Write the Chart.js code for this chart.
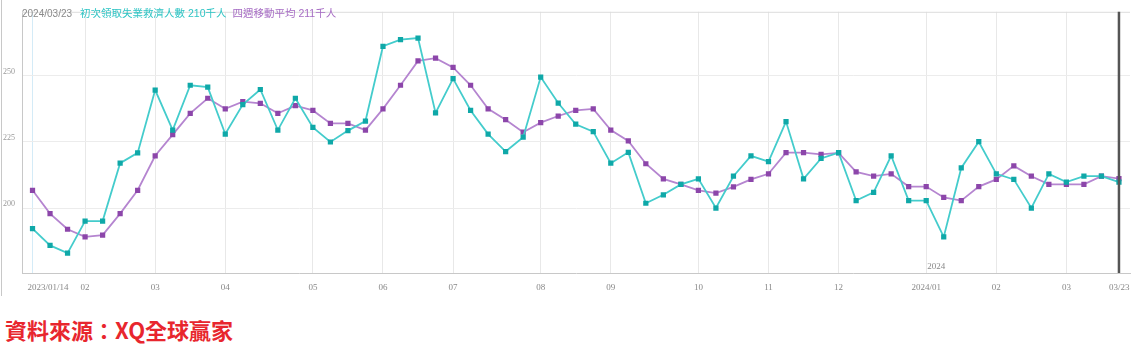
<!DOCTYPE html>
<html>
<head>
<meta charset="utf-8">
<script src="https://cdn.jsdelivr.net/npm/chart.js@4"></script>
<style>
  body { margin: 0; background: #fff; width: 1136px; height: 356px; overflow: hidden; position: relative; }
  #wrap { position: absolute; left: 0; top: 0; width: 1136px; height: 300px; }
  #head { position: absolute; left: 22px; top: 5px; font: 10.5px "Liberation Sans", "Noto Sans CJK TC", sans-serif; white-space: nowrap; }
  #head .date { font-size: 10px; margin-right: 8px; color: #8a8a8a; }
  #head .c1 { margin-right: 6px; color: #2ec4c4; }
  #head .c2 { color: #a66cc4; }
  #src { position: absolute; left: 5px; top: 313px; font: bold 22px "Noto Sans CJK TC", sans-serif; color: #e8262e; white-space: nowrap; }
</style>
</head>
<body>
<div id="wrap"><canvas id="claimsChart"></canvas></div>
<div id="head"><span class="date">2024/03/23</span><span class="c1">初次領取失業救濟人數 210千人</span><span class="c2">四週移動平均 211千人</span></div>
<div id="src">資料來源：XQ全球贏家</div>
<script>
// weekly data 2023/01/14 - 2024/03/23 (千人)
const claims = [192.2, 185.9, 183.0, 195.1, 195.1, 216.9, 220.8, 244.5, 229.4, 246.3,
                245.6, 227.9, 239.0, 244.7, 229.4, 241.4, 230.4, 224.9, 229.2, 232.8,
                261.0, 263.5, 264.1, 235.9, 248.8, 236.8, 227.9, 221.3, 226.7, 249.4,
                239.6, 231.6, 228.8, 216.9, 221.0, 201.8, 205.0, 208.9, 211.0, 200.0,
                212.0, 219.7, 217.5, 232.6, 211.0, 218.7, 220.9, 202.8, 205.9, 219.7,
                202.8, 202.8, 189.1, 215.1, 225.0, 212.9, 210.8, 200.0, 212.9, 209.8,
                212.0, 212.0, 209.8];
const avg4w = [206.7, 197.9, 192.0, 189.1, 189.8, 197.9, 206.7, 219.7, 227.7, 235.7,
               241.4, 237.4, 240.1, 239.5, 235.7, 238.6, 236.8, 231.9, 231.9, 229.4,
               237.4, 246.3, 255.5, 256.5, 253.0, 246.3, 237.4, 233.3, 228.6, 232.2,
               234.7, 236.8, 237.4, 229.4, 225.3, 216.7, 211.0, 208.9, 206.7, 205.6,
               208.0, 210.8, 212.9, 220.9, 220.9, 220.2, 220.8, 213.6, 212.0, 212.9,
               208.1, 208.1, 204.0, 202.8, 208.1, 210.8, 215.9, 212.0, 208.9, 208.9,
               208.9, 212.0, 211.1];

// month ticks: week index -> label
const tickIndex = [0, 3, 7, 11, 16, 20, 24, 29, 33, 38, 42, 46, 51, 55, 59, 62];
const tickText = ['2023/01/14', '02', '03', '04', '05', '06', '07', '08', '09', '10', '11', '12', '2024/01', '02', '03', '03/23'];
const yTicks = [200, 225, 250];
const yearMark = { index: 51, text: '2024' };
const cursorIndex = 62;

const toPoints = arr => arr.map((v, i) => ({ x: i, y: v }));

// x labels, year mark, top frame and cursor line
const decorations = {
    id: 'decorations',
    afterDraw(chart) {
        const ctx = chart.ctx;
        const area = chart.chartArea;
        const xs = chart.scales.x;
        ctx.save();

        ctx.strokeStyle = '#dcdcdc';
        ctx.lineWidth = 1;
        ctx.beginPath();
        ctx.moveTo(area.left, area.top + 0.5);
        ctx.lineTo(area.right, area.top + 0.5);
        ctx.stroke();

        ctx.strokeStyle = '#c8c8c8';
        ctx.beginPath();
        ctx.moveTo(1.5, 0);
        ctx.lineTo(1.5, 296);
        ctx.stroke();

        const cx = xs.getPixelForValue(cursorIndex);
        ctx.strokeStyle = '#555';
        ctx.lineWidth = 2.5;
        ctx.beginPath();
        ctx.moveTo(cx, area.top);
        ctx.lineTo(cx, area.bottom);
        ctx.stroke();

        ctx.font = '9px "Liberation Serif", serif';
        ctx.fillStyle = '#888';
        ctx.textBaseline = 'middle';
        tickIndex.forEach((idx, i) => {
            const x = xs.getPixelForValue(idx);
            if (i === 0) {
                ctx.textAlign = 'left';
                ctx.fillText(tickText[i], x - 5, area.bottom + 15);
            } else if (i === tickIndex.length - 1) {
                ctx.textAlign = 'left';
                ctx.fillText(tickText[i], x - 10, area.bottom + 15);
            } else {
                ctx.textAlign = 'center';
                ctx.fillText(tickText[i], x, area.bottom + 15);
            }
        });
        ctx.textAlign = 'left';
        ctx.fillText(yearMark.text, xs.getPixelForValue(yearMark.index) + 1, area.bottom - 6);
        ctx.restore();
    }
};

new Chart(document.getElementById('claimsChart'), {
    type: 'line',
    data: {
        datasets: [
            {
                label: '初次領取失業救濟人數',
                data: toPoints(claims),
                borderColor: '#44cccc',
                borderWidth: 1.8,
                pointStyle: 'rect',
                pointRadius: 3.7,
                pointBackgroundColor: '#0fa8a8',
                pointBorderColor: '#0fa8a8',
                pointBorderWidth: 0,
                tension: 0
            },
            {
                label: '四週移動平均',
                data: toPoints(avg4w),
                borderColor: '#b585d0',
                borderWidth: 1.8,
                pointStyle: 'rect',
                pointRadius: 3.7,
                pointBackgroundColor: '#8c46aa',
                pointBorderColor: '#8c46aa',
                pointBorderWidth: 0,
                tension: 0
            }
        ]
    },
    options: {
        responsive: true,
        maintainAspectRatio: false,
        animation: false,
        layout: { padding: { left: 0, right: 6, top: 4, bottom: 0 } },
        plugins: {
            legend: { display: false },
            tooltip: { enabled: false }
        },
        scales: {
            x: {
                type: 'linear',
                min: -0.6,
                max: 62.63,
                afterBuildTicks: scale => { scale.ticks = tickIndex.map(v => ({ value: v })); },
                afterFit: scale => { scale.height = 27; },
                ticks: { display: false },
                grid: {
                    drawTicks: false,
                    color: c => (c.index === 0 ? '#d4ebf7' : '#e8e8e8')
                },
                border: { color: '#c8c8c8' }
            },
            y: {
                min: 175.5,
                max: 274,
                afterBuildTicks: scale => { scale.ticks = yTicks.map(v => ({ value: v })); },
                afterFit: scale => { scale.width = 22; },
                ticks: {
                    color: '#999',
                    font: { family: '"Liberation Serif", serif', size: 8 },
                    padding: 7,
                    labelOffset: -4
                },
                grid: { drawTicks: false, color: '#ececec' },
                border: { color: '#c8c8c8' }
            }
        }
    },
    plugins: [decorations]
});
</script>
</body>
</html>
